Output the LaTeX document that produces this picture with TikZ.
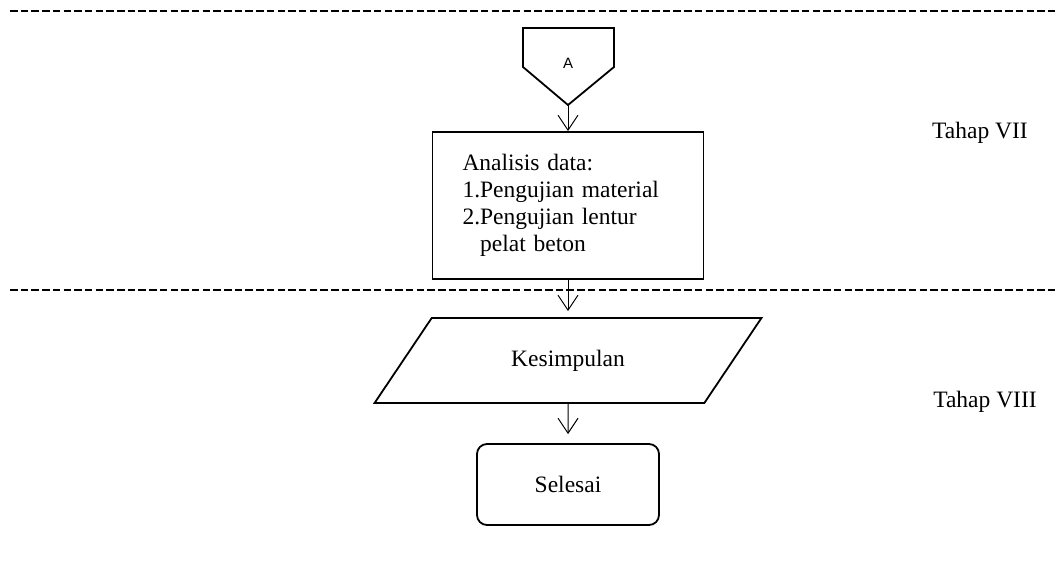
\documentclass[tikz,border=0pt]{standalone}
\usepackage{fontspec}
\setmainfont{Liberation Serif}
\newfontfamily\labelsans{Liberation Sans}
\usepackage{tikz}
\usetikzlibrary{shapes.geometric,arrows.meta}
\tikzstyle{process} = [rectangle, minimum width=271pt, minimum height=147pt, text width=211pt, inner xsep=0pt, align=left, draw=black, line width=1.8pt, font=\fontsize{23.5}{26.8}\selectfont]
\tikzstyle{io} = [trapezium, trapezium left angle=48, trapezium right angle=132, trapezium stretches=true, minimum width=387pt, minimum height=85pt, draw=black, line width=1.8pt, font=\fontsize{23.5}{26.8}\selectfont]
\tikzstyle{terminal} = [rectangle, rounded corners=10pt, minimum width=182pt, minimum height=81pt, draw=black, line width=1.8pt, font=\fontsize{23.5}{26.8}\selectfont]
\tikzstyle{offpage} = [draw=black, line width=1.8pt, line join=miter]
\tikzstyle{divider} = [line width=2.4pt, dash pattern=on 7.5pt off 3.2pt]
\tikzstyle{stage} = [font=\fontsize{23.5}{26.8}\selectfont]
\tikzstyle{arrow} = [line width=1pt, -{Straight Barb[length=15pt, width=20pt, line width=1pt]}]

\begin{document}
\begin{tikzpicture}[x=1pt, y=-1pt]
\useasboundingbox (0,0) rectangle (1059,565);

% batas tahap
\draw [divider] (10,11) -- (1059,11);
\draw [divider] (10,290) -- (1059,290);

% penghubung A
\draw [offpage] (523,28) -- (614,28) -- (614,67) -- (568,105) coordinate (Atip) -- (523,67) -- cycle;
\node (A) at (568,63) {\labelsans\fontsize{15}{18}\selectfont A};

\node (analisis) [process] at (568,205.5) {Analisis data:\\1.Pengujian material\\2.Pengujian lentur\\\phantom{2.}pelat beton};
\node (kesimpulan) [io] at (568,360.5) {Kesimpulan};
\node (selesai) [terminal] at (568,484.5) {Selesai};

\node (tahap7) [stage] at (980,133) {Tahap VII};
\node (tahap8) [stage] at (985,402) {Tahap VIII};

\draw [arrow] (Atip) -- (analisis);
\draw [arrow, shorten >=6pt] (analisis) -- (kesimpulan);
\draw [arrow, shorten >=9pt] (kesimpulan) -- (selesai);
\end{tikzpicture}
\end{document}
